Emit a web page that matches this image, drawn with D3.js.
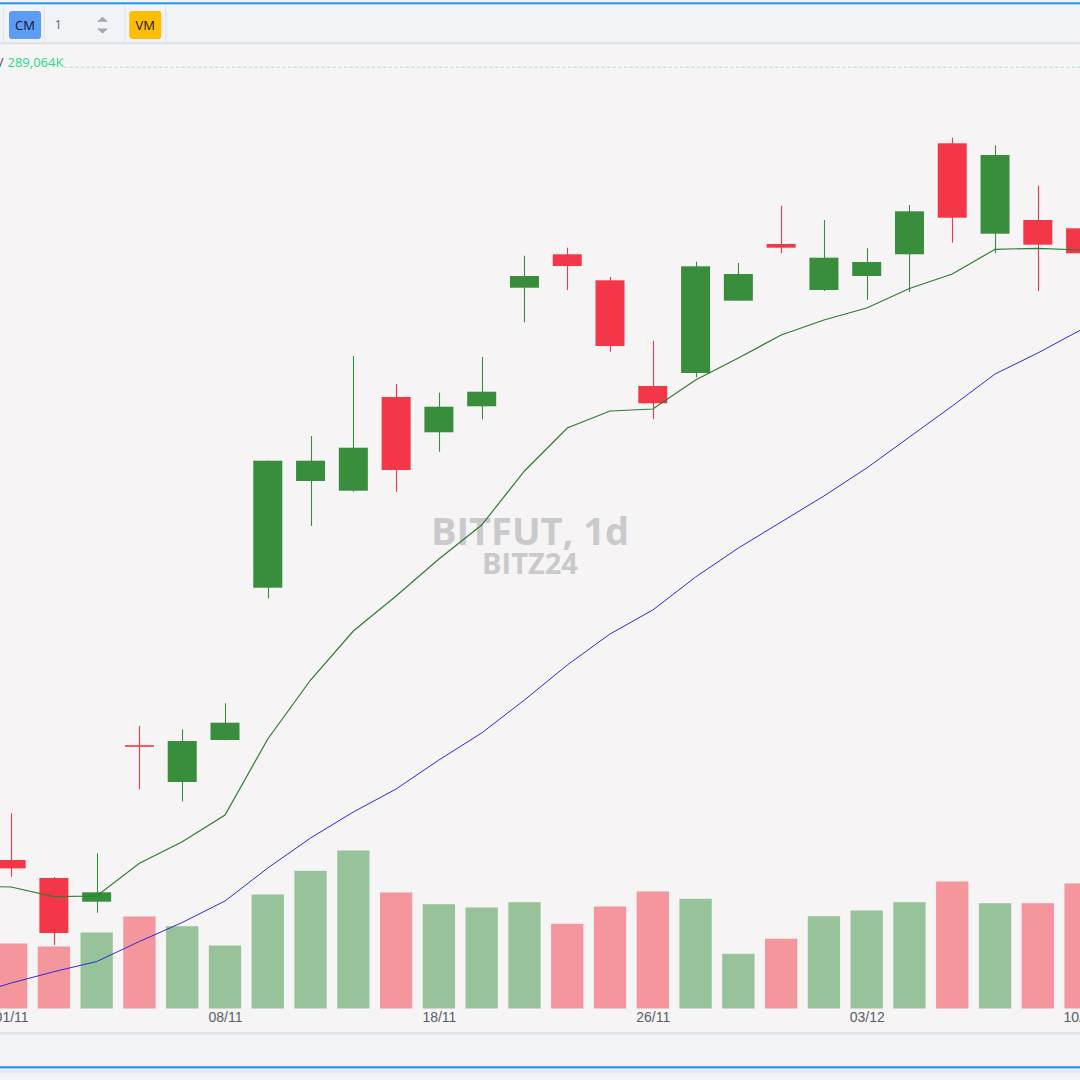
<!DOCTYPE html>
<html>
<head>
<meta charset="utf-8">
<script src="https://cdn.jsdelivr.net/npm/d3@7"></script>
<style>
html,body{margin:0;padding:0;background:#f2f3f6;}
svg{display:block;}
</style>
</head>
<body>
<svg id="chart" width="1080" height="1080"></svg>
<script>
// ---- data ----
const dates = ["31/10","01/11","04/11","05/11","06/11","07/11","08/11","11/11","12/11","13/11","14/11","18/11","19/11","20/11","21/11","22/11","26/11","27/11","28/11","29/11","02/12","03/12","04/12","05/12","06/12","09/12","10/12"];
const opens  = [72300,68300,67400,66215,74040,72200,74300,81915,87250,86765,91450,89685,90985,96915,98585,97285,92000,92650,96265,99100,96800,97500,98585,104135,99615,100300,99885];
const highs  = [72700,70640,67450,68635,75000,74835,76135,88265,89500,93500,92100,91665,93450,98515,98915,97450,94265,98215,98150,101015,100300,98885,101050,104415,104035,102015,99950];
const lows   = [69700,67460,64050,65665,71835,71235,74280,81385,85000,86715,86715,88715,90335,95185,96800,93715,90335,92435,96265,98635,96750,96315,96700,99165,98635,96750,98550];
const closes = [70300,67880,64650,66685,73960,74250,75165,88265,88265,88915,87800,90965,91715,97500,98000,94000,91135,97985,97600,98915,98415,98200,100735,100415,103550,99065,98635];
const volumes = [200000,150300,143400,175800,212800,190300,145700,263600,318400,365400,268300,241200,233600,245800,195900,235900,270600,253700,126500,161200,213400,226600,245800,293700,243500,243500,289064];
const maFast = [67000,66950,66465,66500,68135,69215,70550,74350,77300,79750,81500,83350,85050,87750,89900,90750,90850,92300,93400,94550,95300,95900,96875,97600,98835,98885,98800];
const maSlow = [61500,62150,62715,63225,64225,65175,66250,67900,69400,70700,71850,73300,74650,76300,78050,79600,80800,82450,83900,85200,86500,87900,89450,91000,92600,93650,94800];
const tickLabels = ["01/11","08/11","18/11","26/11","03/12","10/12"];
const lastVolumeLabel = "289,064K";

const data = dates.map((d,i)=>({date:d,o:opens[i],h:highs[i],l:lows[i],c:closes[i],v:volumes[i],f:maFast[i],s:maSlow[i]}));

const UP = "#388e3c", DOWN = "#f43748";
const UP_VOL = "#98c39a", DOWN_VOL = "#f5969c";

const svg = d3.select("#chart");
const W = 1080, H = 1080;

// ---- frame ----
svg.append("rect").attr("x",0).attr("y",0).attr("width",W).attr("height",H).attr("fill","#f2f3f6");
svg.append("rect").attr("x",0).attr("y",2.3).attr("width",W).attr("height",2).attr("fill","#2196f3");
svg.append("rect").attr("x",0).attr("y",42).attr("width",W).attr("height",2.5).attr("fill","#e0e3eb");
svg.append("rect").attr("x",0).attr("y",44.5).attr("width",W).attr("height",987.5).attr("fill","#f6f4f5");
svg.append("rect").attr("x",0).attr("y",1032).attr("width",W).attr("height",2.5).attr("fill","#e0e3eb");
svg.append("rect").attr("x",0).attr("y",1066.2).attr("width",W).attr("height",2.2).attr("fill","#2196f3");
svg.append("rect").attr("x",0).attr("y",1069.8).attr("width",W).attr("height",3).attr("fill","#e3e6ed");

// toolbar
const tb = svg.append("g");
[3.3,44.3,125,165.7].forEach(x=>{
  tb.append("line").attr("x1",x).attr("x2",x).attr("y1",4.5).attr("y2",42).attr("stroke","#e0e3eb").attr("stroke-width",1);
});
tb.append("rect").attr("x",9).attr("y",11).attr("width",32).attr("height",28).attr("rx",3).attr("fill","#5b9cf6");
tb.append("text").attr("x",25).attr("y",29.5).attr("text-anchor","middle").attr("font-family","'Open Sans', sans-serif").attr("font-size",13).attr("fill","#131722").text("CM");
tb.append("text").attr("x",54.5).attr("y",29).attr("font-family","'Open Sans', sans-serif").attr("font-size",13).attr("fill","#6a6d78").text("1");
tb.append("path").attr("d","M97,21.8 L102.5,16.8 L108,21.8 Z").attr("fill","#a3a6af");
tb.append("path").attr("d","M97,28.5 L102.5,33.5 L108,28.5 Z").attr("fill","#a3a6af");
tb.append("rect").attr("x",129.3).attr("y",11).attr("width",32).attr("height",28).attr("rx",3).attr("fill","#fdbd00");
tb.append("text").attr("x",145.3).attr("y",29.5).attr("text-anchor","middle").attr("font-family","'Open Sans', sans-serif").attr("font-size",13).attr("fill","#131722").text("VM");

// ---- scales ----
const step = 42.78;
const x0 = 11.1 - step - step/2;
const x = d3.scaleBand().domain(dates).range([x0, x0 + step*dates.length]).paddingInner(0).paddingOuter(0);
const cx = d => x(d) + x.bandwidth()/2;
const y = d3.scaleLinear().domain([62000,108000]).range([986,66]);
const yv = d3.scaleLinear().domain([0,400000]).range([1008.5, 1008.5 - 400000/2312.5]);

const plot = svg.append("g");

// legend line
plot.append("line").attr("x1",64).attr("x2",W).attr("y1",67.3).attr("y2",67.3)
  .attr("stroke","#9eeccb").attr("stroke-width",1).attr("stroke-dasharray","3,2.6");
plot.append("text").attr("x",3.5).attr("y",67).attr("text-anchor","end").attr("font-family","'Open Sans', sans-serif").attr("font-size",13).attr("fill","#50535e").text("V");
plot.append("text").attr("x",7.5).attr("y",67).attr("font-family","'Open Sans', sans-serif").attr("font-size",13).attr("fill","#22dd85").text(lastVolumeLabel);

// watermark
plot.append("text").attr("x",530).attr("y",545).attr("text-anchor","middle").attr("font-family","'Open Sans', sans-serif").attr("font-weight",700).attr("font-size",38).attr("fill","#cac9cc").text("BITFUT, 1d");
plot.append("text").attr("x",530).attr("y",574).attr("text-anchor","middle").attr("font-family","'Open Sans', sans-serif").attr("font-weight",700).attr("font-size",29).attr("fill","#cac9cc").text("BITZ24");

// volume bars
const vw = 32.3;
plot.append("g").selectAll("rect").data(data).join("rect")
  .attr("x", d => cx(d.date) - vw/2)
  .attr("width", vw)
  .attr("y", d => yv(d.v))
  .attr("height", d => yv(0) - yv(d.v))
  .attr("fill", d => d.c >= d.o ? UP_VOL : DOWN_VOL);

// candles
const bw = 29;
const cg = plot.append("g");
cg.selectAll("line").data(data).join("line")
  .attr("x1", d => Math.round(cx(d.date)) + 0.5)
  .attr("x2", d => Math.round(cx(d.date)) + 0.5)
  .attr("y1", d => y(d.h)).attr("y2", d => y(d.l))
  .attr("stroke", d => d.c >= d.o ? UP : DOWN).attr("stroke-width",1.1);
cg.selectAll("rect").data(data).join("rect")
  .attr("x", d => cx(d.date) - bw/2)
  .attr("width", bw)
  .attr("y", d => y(Math.max(d.o,d.c)))
  .attr("height", d => Math.max(1.6, Math.abs(y(d.o) - y(d.c))))
  .attr("fill", d => d.c >= d.o ? UP : DOWN);

// moving averages
const lineSlow = d3.line().x(d => cx(d.date)).y(d => y(d.s));
const lineFast = d3.line().x(d => cx(d.date)).y(d => y(d.f));
plot.append("path").datum(data).attr("d", lineSlow).attr("fill","none").attr("stroke","#2b2bdc").attr("stroke-width",1);
plot.append("path").datum(data).attr("d", lineFast).attr("fill","none").attr("stroke","#2e7d32").attr("stroke-width",1.2);

// x axis
const xAxis = d3.axisBottom(d3.scalePoint().domain(dates).range([cx(dates[0]), cx(dates[dates.length-1])]))
  .tickValues(tickLabels).tickSize(0).tickPadding(0);
const ax = plot.append("g").attr("transform","translate(0,1009)").call(xAxis);
ax.select(".domain").remove();
ax.selectAll("text").attr("font-family","'Liberation Sans', Arial, sans-serif").attr("font-size",14).attr("fill","#5a5d68").attr("dy","0").attr("y",12.5);
</script>
</body>
</html>
